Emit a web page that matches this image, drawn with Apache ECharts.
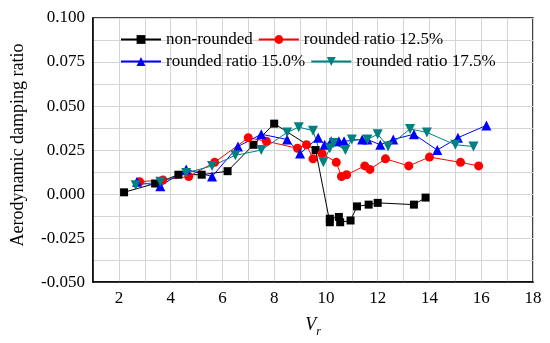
<!DOCTYPE html>
<html>
<head>
<meta charset="utf-8">
<script src="https://cdn.jsdelivr.net/npm/echarts@6/dist/echarts.min.js"></script>
<style>html,body{margin:0;padding:0;background:#fff}#c{width:550px;height:343px}</style>
</head>
<body>
<div id="c"></div>
<script>
var seriesNames = ['non-rounded', 'rounded ratio 12.5%', 'rounded ratio 15.0%', 'rounded ratio 17.5%'];
var xTicks = [2, 4, 6, 8, 10, 12, 14, 16, 18];
var yTicks = [-0.05, -0.025, 0, 0.025, 0.05, 0.075, 0.1];

var nonRounded = [[2.2,0.001],[3.4,0.006],[4.3,0.011],[5.2,0.011],[6.2,0.013],[7.2,0.028],[8.0,0.040],[9.6,0.025],
  [10.15,-0.016],[10.15,-0.014],[10.5,-0.013],[10.55,-0.016],[10.95,-0.015],[11.2,-0.007],[11.65,-0.006],[12.0,-0.005],[13.4,-0.006],[13.85,-0.002]];
var rounded125 = [[2.8,0.007],[3.7,0.008],[4.7,0.010],[5.7,0.018],[7.0,0.032],[7.7,0.030],[8.9,0.026],[9.25,0.028],[9.5,0.020],
  [9.85,0.023],[10.4,0.018],[10.6,0.010],[10.8,0.011],[11.5,0.016],[11.7,0.014],[12.3,0.020],[13.2,0.016],[14.0,0.021],[15.2,0.018],[15.9,0.016]];
var rounded150 = [[2.7,0.007],[3.6,0.0045],[4.6,0.014],[5.6,0.010],[6.6,0.027],[7.5,0.034],[8.5,0.031],[9.0,0.023],[9.7,0.032],
  [9.95,0.028],[10.2,0.030],[10.5,0.030],[10.7,0.030],[11.4,0.031],[11.6,0.031],[12.1,0.028],[12.6,0.031],[13.4,0.034],[14.3,0.025],[15.1,0.032],[16.2,0.039]];
var rounded175 = [[2.65,0.005],[3.6,0.007],[4.6,0.012],[5.6,0.016],[6.5,0.022],[7.5,0.025],[8.5,0.035],[8.95,0.038],[9.5,0.036],
  [9.9,0.018],[10.15,0.026],[10.3,0.029],[10.75,0.025],[11.0,0.031],[11.6,0.031],[12.0,0.034],[12.4,0.027],[13.25,0.037],[13.9,0.035],[15.0,0.028],[15.7,0.027]];

var FONT = 'Liberation Serif';
function isTick(list, v) {
  for (var i = 0; i < list.length; i++) if (Math.abs(list[i] - v) < 1e-9) return true;
  return false;
}
function mk(name, data, color, symbol, size) {
  return {
    name: name, type: 'line', data: data, symbol: symbol, symbolSize: size,
    lineStyle: { color: color, width: 1 }, itemStyle: { color: color },
    emphasis: { disabled: true }, animation: false
  };
}
var chart = echarts.init(document.getElementById('c'));
chart.setOption({
  animation: false,
  textStyle: { fontFamily: FONT },
  grid: { left: 93, right: 17, top: 18, bottom: 55, show: true, borderColor: '#000', borderWidth: 1.5, backgroundColor: 'transparent' },
  legend: {
    data: seriesNames, left: 115, top: 26, width: 400, itemWidth: 40, itemHeight: 11, itemGap: 5,
    textStyle: { fontFamily: FONT, fontSize: 17, color: '#000', padding: [0, 0, 0, 0] }
  },
  xAxis: {
    type: 'value', min: 1, max: 18, interval: 1,
    name: '{a|V}{b|r}', nameLocation: 'middle', nameGap: 26,
    nameTextStyle: {
      rich: {
        a: { fontFamily: FONT, fontStyle: 'italic', fontSize: 18, color: '#000', lineHeight: 20 },
        b: { fontFamily: FONT, fontStyle: 'italic', fontSize: 12, color: '#000', padding: [14, 0, 0, 0], lineHeight: 20 }
      }
    },
    axisLine: { show: true, onZero: false, lineStyle: { color: '#000', width: 1.5 } },
    axisTick: { show: false },
    axisLabel: { fontFamily: FONT, fontSize: 17, color: '#000', margin: 8,
      formatter: function (v) { return isTick(xTicks, v) ? String(v) : ''; } },
    splitLine: { show: true, lineStyle: { color: '#d4d4d4', width: 1 } }
  },
  yAxis: {
    type: 'value', min: -0.05, max: 0.1, interval: 0.0125,
    name: 'Aerodynamic damping ratio', nameLocation: 'middle', nameGap: 66,
    nameTextStyle: { fontFamily: FONT, fontSize: 18, color: '#000', padding: [0, 0, 0, 10] },
    axisLine: { show: true, onZero: false, lineStyle: { color: '#000', width: 1.5 } },
    axisTick: { show: false },
    axisLabel: { fontFamily: FONT, fontSize: 17, color: '#000', margin: 8,
      formatter: function (v) { return isTick(yTicks, v) ? v.toFixed(3) : ''; } },
    splitLine: { show: true, lineStyle: { color: '#d4d4d4', width: 1 } }
  },
  series: [
    mk(seriesNames[0], nonRounded, '#000000', 'rect', 8),
    mk(seriesNames[1], rounded125, '#ff0000', 'circle', 9),
    mk(seriesNames[2], rounded150, '#0000ff', 'triangle', 10),
    mk(seriesNames[3], rounded175, '#008080', 'path://M0,0 L10,0 L5,9 Z', 10)
  ]
});
</script>
</body>
</html>
